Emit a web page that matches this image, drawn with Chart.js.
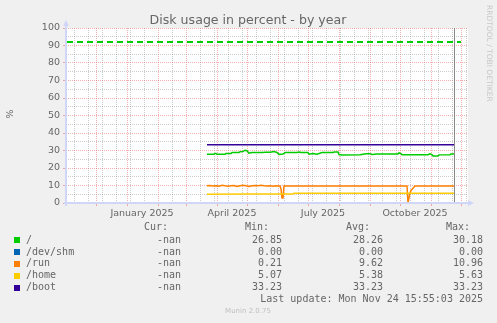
<!DOCTYPE html>
<html>
<head>
<meta charset="utf-8">
<script src="https://cdn.jsdelivr.net/npm/chart.js@4/dist/chart.umd.min.js"></script>
<style>
html, body { margin: 0; padding: 0; background: #f0f0f0; }
canvas { display: block; }
</style>
</head>
<body>
<canvas id="diskChart" width="497" height="323"></canvas>
<script>
// x values are days counted from 1 January 2025
let rootDays = [80, 87, 88, 89, 90, 98, 99, 104, 105, 112, 113, 116, 118, 120, 122, 125, 135, 138, 143, 147,
                150, 152, 156, 158, 170, 172, 174, 181, 182, 186, 190, 195, 206, 207, 211, 212, 215, 233, 239, 243,
                245, 250, 271, 272, 274, 275, 301, 303, 305, 306, 311, 312, 323, 324, 327];
let rootPct = [27.8, 27.8, 28.3, 28.3, 27.8, 27.8, 28.3, 28.3, 28.8, 28.8, 29.3, 29.4, 30.18, 29.9, 28.5, 28.8, 28.9, 29.0, 29.0, 29.4,
               28.9, 27.8, 28.0, 28.8, 28.8, 29.1, 28.8, 28.8, 27.9, 28.3, 27.9, 28.8, 28.8, 29.1, 29.1, 27.7, 27.5, 27.6, 28.2, 28.2,
               27.7, 28.0, 28.0, 28.6, 28.2, 27.6, 27.6, 28.1, 27.6, 26.9, 26.9, 27.5, 27.6, 28.0, 28.0];

let shmDays = [80, 327];
let shmPct = [0, 0];

let runDays = [80, 83, 86, 89, 92, 95, 98, 101, 104, 107, 110, 113, 116, 119, 122, 125, 128, 131, 134, 137,
               140, 143, 146, 149, 152, 153, 154, 155, 156, 157, 280, 281, 283, 284, 288, 327];
let runPct = [9.8, 10.0, 9.7, 9.9, 9.6, 10.1, 9.8, 9.6, 9.9, 10.0, 9.4, 9.8, 10.2, 9.9, 9.5, 9.8, 10.0, 9.9, 10.1, 9.8,
              9.7, 9.8, 9.6, 9.8, 9.7, 9.7, 8.0, 2.8, 2.8, 9.7, 9.7, 0.21, 5.6, 7.2, 9.7, 9.7];

let homeDays = [80, 120, 166, 167, 240, 327];
let homePct = [5.07, 5.09, 5.1, 5.57, 5.6, 5.63];

let bootDays = [80, 327];
let bootPct = [33.23, 33.23];

let seriesNames = ['/', '/dev/shm', '/run', '/home', '/boot'];
let curVals = ['-nan', '-nan', '-nan', '-nan', '-nan'];
let minVals = [26.85, 0.00, 0.21, 5.07, 33.23];
let avgVals = [28.26, 0.00, 9.62, 5.38, 33.23];
let maxVals = [30.18, 0.00, 10.96, 5.63, 33.23];

let warnLevel = 92;
let nowDay = 327;           // 24 Nov 2025
let xMin = -61, xMax = 340;
let monthDays = [-61, -31, 0, 31, 59, 90, 120, 151, 181, 212, 243, 273, 304, 334];
let xLabelDays = [15, 105, 196, 288];
let xLabels = ['January 2025', 'April 2025', 'July 2025', 'October 2025'];
let yTicks = [0, 10, 20, 30, 40, 50, 60, 70, 80, 90, 100];

let colors = ['#00cc00', '#0066b3', '#ff8000', '#ffcc00', '#330099'];
let gridColor = 'rgba(143,143,143,0.45)';
let mgridColor = 'rgba(222,79,79,0.45)';
let axisColor = '#cfd6f8';
let fontColor = '#666666';

let minorDays = [];
for (let d = -53; d <= xMax; d += 14) minorDays.push(d);

let pts = function (days, vals) {
    return days.map(function (d, i) { return { x: d, y: vals[i] }; });
};

let lineSet = function (i, days, vals) {
    return {
        label: seriesNames[i],
        data: pts(days, vals),
        borderColor: colors[i],
        borderWidth: 1.5,
        pointRadius: 0,
        tension: 0,
        fill: false,
        order: 5 - i
    };
};

let decor = {
    id: 'decor',
    beforeDraw: function (chart) {
        let ctx = chart.ctx, a = chart.chartArea;
        ctx.save();
        ctx.fillStyle = '#f0f0f0';
        ctx.fillRect(0, 0, chart.width, chart.height);
        ctx.fillStyle = '#ffffff';
        ctx.fillRect(a.left, a.top, a.right - a.left + 1, a.bottom - a.top);
        ctx.restore();
    },
    afterDatasetsDraw: function (chart) {
        let ctx = chart.ctx, a = chart.chartArea;
        let xs = chart.scales.x, ys = chart.scales.y;
        ctx.save();
        // warning rule
        let wy = Math.round(ys.getPixelForValue(warnLevel));
        ctx.strokeStyle = colors[0];
        ctx.lineWidth = 2;
        ctx.setLineDash([6, 4]);
        ctx.beginPath();
        ctx.moveTo(a.left + 1, wy);
        ctx.lineTo(a.right - 6, wy);
        ctx.stroke();
        ctx.setLineDash([]);
        // now line
        let nx = Math.round(xs.getPixelForValue(nowDay)) + 0.5;
        ctx.strokeStyle = '#888888';
        ctx.lineWidth = 1;
        ctx.beginPath();
        ctx.moveTo(nx, a.top);
        ctx.lineTo(nx, a.bottom);
        ctx.stroke();
        // axes + arrows
        ctx.fillStyle = axisColor;
        ctx.fillRect(a.left - 1, a.top - 2, 2, a.bottom - a.top + 5);
        ctx.fillRect(a.left - 2, a.bottom - 1, a.right - a.left + 4, 2);
        ctx.beginPath();
        ctx.moveTo(a.left - 3, a.top - 2);
        ctx.lineTo(a.left + 3, a.top - 2);
        ctx.lineTo(a.left, a.top - 8);
        ctx.closePath();
        ctx.fill();
        ctx.beginPath();
        ctx.moveTo(a.right + 1, a.bottom - 3);
        ctx.lineTo(a.right + 1, a.bottom + 3);
        ctx.lineTo(a.right + 7, a.bottom);
        ctx.closePath();
        ctx.fill();
        ctx.restore();
    },
    afterDraw: function (chart) {
        let ctx = chart.ctx;
        ctx.save();
        ctx.fillStyle = fontColor;
        ctx.textBaseline = 'alphabetic';
        ctx.textAlign = 'center';
        ctx.font = '12.6px "DejaVu Sans"';
        ctx.fillText('Disk usage in percent - by year', 248, 24);

        ctx.save();
        ctx.translate(11, 114);
        ctx.rotate(-Math.PI / 2);
        ctx.font = '9.5px "DejaVu Sans"';
        ctx.textBaseline = 'middle';
        ctx.fillText('%', 0, 0);
        ctx.restore();

        ctx.save();
        ctx.translate(489, 5);
        ctx.rotate(Math.PI / 2);
        ctx.font = '7.5px "DejaVu Sans"';
        ctx.fillStyle = '#c8c8c8';
        ctx.textAlign = 'left';
        ctx.textBaseline = 'middle';
        ctx.fillText('RRDTOOL / TOBI OETIKER', 0, 0);
        ctx.restore();

        // legend table
        ctx.font = '10px "DejaVu Sans Mono"';
        ctx.textBaseline = 'middle';
        ctx.textAlign = 'right';
        ctx.fillText('Cur:', 168, 227);
        ctx.fillText('Min:', 269, 227);
        ctx.fillText('Avg:', 370, 227);
        ctx.fillText('Max:', 470, 227);
        seriesNames.forEach(function (name, i) {
            let y = 240 + i * 11.95;
            ctx.fillStyle = colors[i];
            ctx.fillRect(14, Math.round(y) - 3, 6, 6);
            ctx.fillStyle = fontColor;
            ctx.textAlign = 'left';
            ctx.fillText(name, 26, y);
            ctx.textAlign = 'right';
            ctx.fillText(curVals[i], 181, y);
            ctx.fillText(minVals[i].toFixed(2), 282, y);
            ctx.fillText(avgVals[i].toFixed(2), 383, y);
            ctx.fillText(maxVals[i].toFixed(2), 483, y);
        });
        ctx.fillText('Last update: Mon Nov 24 15:55:03 2025', 483, 299.5);
        ctx.textAlign = 'center';
        ctx.font = '7px "DejaVu Sans"';
        ctx.fillStyle = '#c0c0c0';
        ctx.fillText('Munin 2.0.75', 248, 311);
        ctx.restore();
    }
};

let xTickKind = function (v) {
    if (monthDays.indexOf(v) >= 0) return 'major';
    if (minorDays.indexOf(v) >= 0) return 'minor';
    return 'label';
};

Chart.defaults.font.family = '"DejaVu Sans"';
Chart.defaults.color = fontColor;

let diskChart = new Chart(document.getElementById('diskChart').getContext('2d'), {
    type: 'line',
    data: {
        datasets: [
            lineSet(0, rootDays, rootPct),
            lineSet(1, shmDays, shmPct),
            lineSet(2, runDays, runPct),
            lineSet(3, homeDays, homePct),
            lineSet(4, bootDays, bootPct)
        ]
    },
    options: {
        responsive: false,
        animation: false,
        events: [],
        layout: { padding: { top: 28, right: 30, bottom: 100, left: 0 } },
        plugins: { legend: { display: false }, tooltip: { enabled: false }, title: { display: false } },
        scales: {
            x: {
                type: 'linear',
                min: xMin,
                max: xMax,
                afterBuildTicks: function (scale) {
                    let all = monthDays.concat(minorDays, xLabelDays);
                    all = all.filter(function (v, i) { return all.indexOf(v) === i; }).sort(function (p, q) { return p - q; });
                    scale.ticks = all.map(function (v) { return { value: v }; });
                },
                afterFit: function (scale) { scale.height = 20; },
                ticks: {
                    autoSkip: false,
                    maxRotation: 0,
                    padding: 2,
                    font: { size: 9.5 },
                    color: fontColor,
                    callback: function (v) {
                        let k = xLabelDays.indexOf(v);
                        return k >= 0 ? xLabels[k] : '';
                    }
                },
                grid: {
                    lineWidth: 1,
                    tickLength: 3,
                    color: function (c) {
                        let k = xTickKind(c.tick.value);
                        return k === 'major' ? mgridColor : (k === 'minor' ? gridColor : 'rgba(0,0,0,0)');
                    },
                    tickColor: function (c) {
                        return xTickKind(c.tick.value) === 'major' ? mgridColor : 'rgba(0,0,0,0)';
                    }
                },
                border: { display: false, dash: [1, 1] }
            },
            y: {
                min: 0,
                max: 100,
                afterFit: function (scale) { scale.width = 66; },
                ticks: {
                    stepSize: 5,
                    autoSkip: false,
                    padding: 3,
                    font: { size: 9.5 },
                    color: fontColor,
                    callback: function (v) { return yTicks.indexOf(v) >= 0 ? String(v) : ''; }
                },
                grid: {
                    lineWidth: 1,
                    tickLength: 3,
                    color: function (c) { return c.tick.value % 10 === 0 ? mgridColor : gridColor; },
                    tickColor: function (c) { return c.tick.value % 10 === 0 ? mgridColor : 'rgba(0,0,0,0)'; }
                },
                border: { display: false, dash: [1, 1] }
            }
        }
    },
    plugins: [decor]
});
</script>
</body>
</html>
